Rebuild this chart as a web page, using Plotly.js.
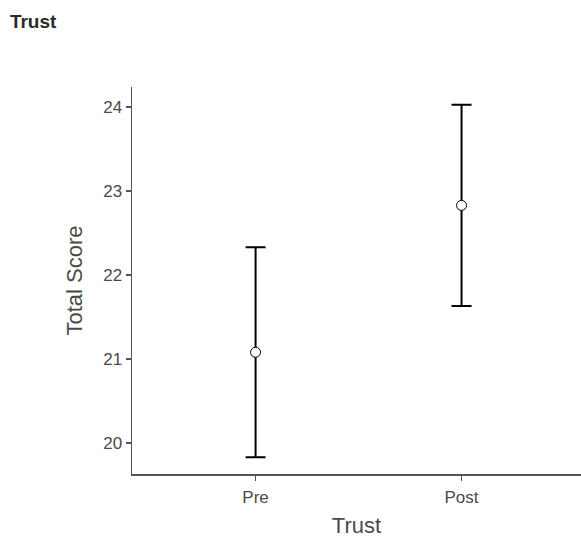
<!DOCTYPE html>
<html>
<head>
<meta charset="utf-8">
<script src="https://cdn.plot.ly/plotly-3.0.1.min.js"></script>
<style>html,body{margin:0;padding:0;background:#fff;}#chart{width:581px;height:538px;}</style>
</head>
<body>
<div id="chart"></div>
<script>
const categories = ["Pre", "Post"];
const means = [21.08, 22.83];
const upper = [22.33, 24.03];
const lower = [19.83, 21.63];

const errPlus = means.map((m, i) => upper[i] - m);
const errMinus = means.map((m, i) => m - lower[i]);

const font = "Liberation Sans, Arial, Helvetica, sans-serif";

const trace = {
  type: "scatter",
  mode: "markers",
  x: categories,
  y: means,
  marker: {symbol: "circle", size: 10, color: "#ffffff", line: {color: "#000000", width: 1}},
  error_y: {type: "data", symmetric: false, array: errPlus, arrayminus: errMinus,
            color: "#000000", thickness: 2, width: 10},
  hoverinfo: "x+y"
};

const layout = {
  width: 581, height: 538,
  paper_bgcolor: "#ffffff", plot_bgcolor: "#ffffff",
  margin: {l: 132, r: 0, t: 87, b: 64},
  showlegend: false,
  title: {text: "<b>Trust</b>", x: 0.017, xanchor: "left", y: 0.96, yanchor: "middle",
          font: {family: font, size: 19, color: "#2a2a2a"}},
  xaxis: {
    type: "category", range: [-0.6, 1.58],
    showgrid: false, zeroline: false,
    showline: true, linecolor: "#555555", linewidth: 1.5,
    ticks: "outside", ticklen: 5, tickcolor: "#555555", tickwidth: 1.5,
    tickfont: {family: font, size: 17, color: "#4a4a4a"},
    ticklabelstandoff: 2,
    automargin: true,
    title: {text: "Trust", font: {family: font, size: 22, color: "#4a4a4a"}, standoff: 14}
  },
  yaxis: {
    range: [19.63, 24.24],
    tickvals: [20, 21, 22, 23, 24],
    showgrid: false, zeroline: false,
    showline: true, linecolor: "#555555", linewidth: 1.5,
    ticks: "outside", ticklen: 5, tickcolor: "#555555", tickwidth: 1.5,
    tickfont: {family: font, size: 17, color: "#4a4a4a"},
    title: {text: "Total Score", font: {family: font, size: 22, color: "#4a4a4a"}, standoff: 14}
  }
};

Plotly.newPlot("chart", [trace], layout, {displayModeBar: false, staticPlot: true});
</script>
</body>
</html>
